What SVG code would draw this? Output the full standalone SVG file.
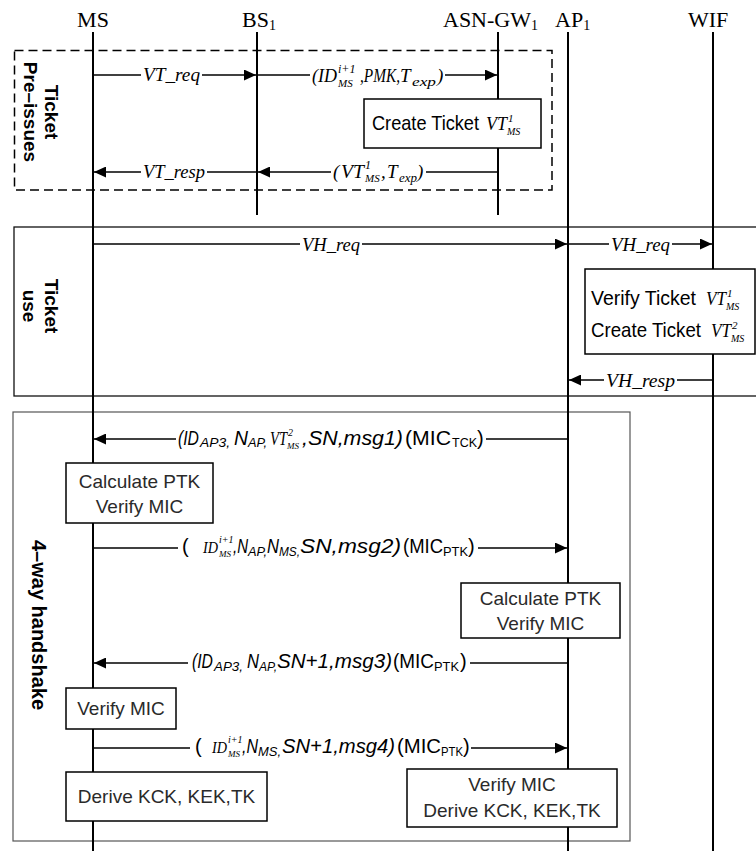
<svg xmlns="http://www.w3.org/2000/svg" width="756" height="851" viewBox="0 0 756 851">
<defs>
<style>
.hd{font-family:"Liberation Serif",serif;font-size:22px;fill:#000}
.ms{font-family:"Liberation Serif",serif;font-style:italic;font-size:19px;fill:#000}
.hs{font-family:"Liberation Sans",sans-serif;font-style:italic;font-size:20px;fill:#000}
.hr{font-family:"Liberation Sans",sans-serif;font-size:20px;fill:#000}
.sb{font-size:13px}
.f9{font-size:9px}
.f10{font-size:10px}
.f11{font-size:11px}
.f12{font-size:12px}
.f13{font-size:13px}
.f17{font-size:17px}
.life{stroke:#000;stroke-width:2}
.msg{stroke:#000;stroke-width:1.5;fill:none}
.arr{marker-end:url(#ah)}
.box{fill:#fff;stroke:#000;stroke-width:1.5}
.bn{font-family:"Liberation Sans",sans-serif;font-size:21px;fill:#000}
.bt{font-family:"Liberation Sans",sans-serif;font-size:19px;fill:#2a2a2a;text-anchor:middle}
.lab{font-family:"Liberation Sans",sans-serif;font-weight:bold;font-size:19px;fill:#000;text-anchor:middle}
.lab20{font-size:20px}
</style>
<marker id="ah" markerUnits="userSpaceOnUse" markerWidth="13" markerHeight="11" refX="12" refY="5.5" orient="auto"><path d="M0,0 L12,5.5 L0,11 z" fill="#000"/></marker>
</defs>
<rect width="756" height="851" fill="#fff"/>

<g id="frame-preissue">
<rect x="14.5" y="50.5" width="537.5" height="139.5" fill="none" stroke="#000" stroke-width="1.5" stroke-dasharray="9,5"/>
<text class="lab" transform="translate(45,112) rotate(90)">Ticket</text>
<text class="lab" transform="translate(24,112) rotate(90)">Pre–issues</text>
</g>
<g id="frame-ticketuse">
<rect x="14" y="227" width="760" height="169" fill="none" stroke="#111" stroke-width="1.3"/>
<text class="lab" transform="translate(45,306) rotate(90)">Ticket</text>
<text class="lab" transform="translate(23,306) rotate(90)">use</text>
</g>
<g id="frame-handshake">
<rect x="13" y="412" width="617" height="429" fill="none" stroke="#555" stroke-width="1.2"/>
<text class="lab lab20" transform="translate(32,625) rotate(90)">4–way handshake</text>
</g>

<g id="MS"><text class="hd" x="93" y="27" text-anchor="middle">MS</text><line class="life" x1="93" y1="32" x2="93" y2="851"/></g>
<g id="BS1"><text class="hd" x="242" y="27">BS<tspan font-size="14" dy="3">1</tspan></text><line class="life" x1="257" y1="32" x2="257" y2="215"/></g>
<g id="ASN-GW1"><text class="hd" x="443" y="27">ASN-GW<tspan font-size="14" dy="3">1</tspan></text><line class="life" x1="498" y1="32" x2="498" y2="215"/></g>
<g id="AP1"><text class="hd" x="555" y="27">AP<tspan font-size="14" dy="3">1</tspan></text><line class="life" x1="568" y1="32" x2="568" y2="851"/></g>
<g id="WIF"><text class="hd" x="688" y="27">WIF</text><line class="life" x1="713" y1="32" x2="713" y2="851"/></g>

<g id="connectors">
<!-- VT_req -->
<line class="msg" x1="93" y1="75" x2="141" y2="75"/>
<line class="msg arr" x1="202" y1="75" x2="256" y2="75"/>
<text class="ms" x="143" y="81" textLength="57" lengthAdjust="spacingAndGlyphs">VT_req</text>
<!-- (ID,PMK,Texp) -->
<line class="msg" x1="257" y1="75" x2="310" y2="75"/>
<line class="msg arr" x1="445" y1="75" x2="497" y2="75"/>
<text class="ms" x="312" y="82" textLength="25" lengthAdjust="spacingAndGlyphs">(ID</text>
<text class="ms f12" x="338" y="73">i+1</text>
<text class="ms f11" x="338" y="87">MS</text>
<text class="ms" x="360" y="82" textLength="40" lengthAdjust="spacingAndGlyphs">,PMK,</text>
<text class="ms" x="400" y="82">T</text>
<text class="ms f13" x="412" y="86" textLength="24" lengthAdjust="spacingAndGlyphs">exp</text>
<text class="ms" x="437" y="82">)</text>
<!-- VT_resp -->
<line class="msg" x1="257" y1="172" x2="207" y2="172"/>
<line class="msg arr" x1="141" y1="172" x2="94" y2="172"/>
<text class="ms" x="143" y="178" textLength="62" lengthAdjust="spacingAndGlyphs">VT_resp</text>
<!-- (VT1,Texp) -->
<line class="msg" x1="498" y1="172" x2="426" y2="172"/>
<line class="msg arr" x1="331" y1="172" x2="258" y2="172"/>
<text class="ms" x="333" y="178">(</text>
<text class="ms" x="341" y="178" textLength="23" lengthAdjust="spacingAndGlyphs">VT</text>
<text class="ms f12" x="365" y="169">1</text>
<text class="ms f11" x="365" y="182">MS</text>
<text class="ms" x="381" y="178">,</text>
<text class="ms" x="387" y="178">T</text>
<text class="ms f13" x="399" y="182" textLength="18" lengthAdjust="spacingAndGlyphs">exp</text>
<text class="ms" x="417" y="178">)</text>
<!-- VH_req 1 -->
<line class="msg" x1="93" y1="244" x2="300" y2="244"/>
<line class="msg arr" x1="362" y1="244" x2="567" y2="244"/>
<text class="ms" x="302" y="251" textLength="58" lengthAdjust="spacingAndGlyphs">VH_req</text>
<!-- VH_req 2 -->
<line class="msg" x1="568" y1="244" x2="609" y2="244"/>
<line class="msg arr" x1="672" y1="244" x2="712" y2="244"/>
<text class="ms" x="611" y="251" textLength="59" lengthAdjust="spacingAndGlyphs">VH_req</text>
<!-- VH_resp -->
<line class="msg" x1="713" y1="380" x2="677" y2="380"/>
<line class="msg arr" x1="604" y1="380" x2="569" y2="380"/>
<text class="ms" x="606" y="387" textLength="69" lengthAdjust="spacingAndGlyphs">VH_resp</text>
<!-- msg1 -->
<line class="msg" x1="568" y1="439" x2="486" y2="439"/>
<line class="msg arr" x1="176" y1="439" x2="94" y2="439"/>
<text class="hs" x="178" y="445" textLength="21" lengthAdjust="spacingAndGlyphs">(ID</text>
<text class="hs sb" x="200" y="447" textLength="30" lengthAdjust="spacingAndGlyphs">AP3,</text>
<text class="hs" x="234" y="445" textLength="14" lengthAdjust="spacingAndGlyphs">N</text>
<text class="hs sb" x="248" y="447" textLength="19" lengthAdjust="spacingAndGlyphs">AP,</text>
<text class="ms" x="270" y="445" textLength="17" lengthAdjust="spacingAndGlyphs">VT</text>
<text class="ms f10" x="288" y="436">2</text>
<text class="ms f9" x="287" y="449">MS</text>
<text class="hs" x="302" y="445" textLength="101" lengthAdjust="spacingAndGlyphs">,SN,msg1)</text>
<text class="hr" x="405" y="445" textLength="46" lengthAdjust="spacingAndGlyphs">(MIC</text>
<text class="hr sb" x="452" y="447" textLength="25" lengthAdjust="spacingAndGlyphs">TCK</text>
<text class="hr" x="477" y="445">)</text>
<!-- msg2 -->
<line class="msg" x1="93" y1="548" x2="178" y2="548"/>
<line class="msg arr" x1="478" y1="548" x2="567" y2="548"/>
<text class="hr" x="182" y="553">(</text>
<text class="ms f17" x="203" y="553" textLength="15" lengthAdjust="spacingAndGlyphs">ID</text>
<text class="ms f10" x="219" y="543">i+1</text>
<text class="ms f9" x="219" y="557">MS</text>
<text class="hs" x="233" y="553" textLength="15" lengthAdjust="spacingAndGlyphs">,N</text>
<text class="hs sb" x="248" y="556" textLength="19" lengthAdjust="spacingAndGlyphs">AP,</text>
<text class="hs" x="267" y="553" textLength="12" lengthAdjust="spacingAndGlyphs">N</text>
<text class="hs sb" x="279" y="556" textLength="21" lengthAdjust="spacingAndGlyphs">MS,</text>
<text class="hs" x="300" y="553" textLength="101" lengthAdjust="spacingAndGlyphs">SN,msg2)</text>
<text class="hr" x="403" y="553" textLength="40" lengthAdjust="spacingAndGlyphs">(MIC</text>
<text class="hr sb" x="443" y="556" textLength="25" lengthAdjust="spacingAndGlyphs">PTK</text>
<text class="hr" x="468" y="553">)</text>
<!-- msg3 -->
<line class="msg" x1="568" y1="663" x2="470" y2="663"/>
<line class="msg arr" x1="188" y1="663" x2="94" y2="663"/>
<text class="hs" x="192" y="668" textLength="21" lengthAdjust="spacingAndGlyphs">(ID</text>
<text class="hs sb" x="214" y="671" textLength="29" lengthAdjust="spacingAndGlyphs">AP3,</text>
<text class="hs" x="247" y="668" textLength="12" lengthAdjust="spacingAndGlyphs">N</text>
<text class="hs sb" x="259" y="671" textLength="18" lengthAdjust="spacingAndGlyphs">AP,</text>
<text class="hs" x="277" y="668" textLength="115" lengthAdjust="spacingAndGlyphs">SN+1,msg3)</text>
<text class="hr" x="393" y="668" textLength="41" lengthAdjust="spacingAndGlyphs">(MIC</text>
<text class="hr sb" x="434" y="671" textLength="25" lengthAdjust="spacingAndGlyphs">PTK</text>
<text class="hr" x="460" y="668">)</text>
<!-- msg4 -->
<line class="msg" x1="93" y1="748" x2="190" y2="748"/>
<line class="msg arr" x1="471" y1="748" x2="567" y2="748"/>
<text class="hr" x="195" y="753">(</text>
<text class="ms f17" x="212" y="753" textLength="15" lengthAdjust="spacingAndGlyphs">ID</text>
<text class="ms f10" x="228" y="743">i+1</text>
<text class="ms f9" x="228" y="757">MS</text>
<text class="hs" x="242" y="753" textLength="16" lengthAdjust="spacingAndGlyphs">,N</text>
<text class="hs sb" x="258" y="756" textLength="23" lengthAdjust="spacingAndGlyphs">MS,</text>
<text class="hs" x="282" y="753" textLength="113" lengthAdjust="spacingAndGlyphs">SN+1,msg4)</text>
<text class="hr" x="397" y="753" textLength="44" lengthAdjust="spacingAndGlyphs">(MIC</text>
<text class="hr sb" x="441" y="756" textLength="22" lengthAdjust="spacingAndGlyphs">PTK</text>
<text class="hr" x="463" y="753">)</text>
</g>

<g id="create-ticket-1">
<rect class="box" x="364" y="99" width="177" height="49"/>
<text class="bn" x="372" y="130" textLength="107" lengthAdjust="spacingAndGlyphs">Create Ticket</text>
<text class="ms" x="486" y="130" textLength="21" lengthAdjust="spacingAndGlyphs">VT</text>
<text class="ms f11" x="508" y="122">1</text>
<text class="ms f10" x="507" y="135">MS</text>
</g>
<g id="verify-create-ticket">
<rect class="box" x="585" y="269" width="170" height="85"/>
<text class="bn" x="591" y="305" textLength="105" lengthAdjust="spacingAndGlyphs">Verify Ticket</text>
<text class="ms" x="706" y="305" textLength="20" lengthAdjust="spacingAndGlyphs">VT</text>
<text class="ms f11" x="727" y="297">1</text>
<text class="ms f10" x="726" y="310">MS</text>
<text class="bn" x="591" y="337" textLength="110" lengthAdjust="spacingAndGlyphs">Create Ticket</text>
<text class="ms" x="711" y="337" textLength="20" lengthAdjust="spacingAndGlyphs">VT</text>
<text class="ms f11" x="732" y="329">2</text>
<text class="ms f10" x="731" y="342">MS</text>
</g>
<g id="calc-ptk-ms">
<rect class="box" x="66" y="463" width="147" height="60"/>
<text class="bt" x="139.5" y="488">Calculate PTK</text>
<text class="bt" x="139.5" y="513">Verify MIC</text>
</g>
<g id="calc-ptk-ap">
<rect class="box" x="461" y="583" width="159" height="55"/>
<text class="bt" x="540.5" y="605">Calculate PTK</text>
<text class="bt" x="540.5" y="630">Verify MIC</text>
</g>
<g id="verify-mic-ms">
<rect class="box" x="66" y="688" width="110" height="41"/>
<text class="bt" x="121" y="715">Verify MIC</text>
</g>
<g id="derive-ms">
<rect class="box" x="66" y="772" width="201" height="49"/>
<text class="bt" x="166.5" y="803">Derive KCK, KEK,TK</text>
</g>
<g id="verify-derive-ap">
<rect class="box" x="407" y="769" width="210" height="58"/>
<text class="bt" x="512" y="791">Verify MIC</text>
<text class="bt" x="512" y="817">Derive KCK, KEK,TK</text>
</g>
</svg>
